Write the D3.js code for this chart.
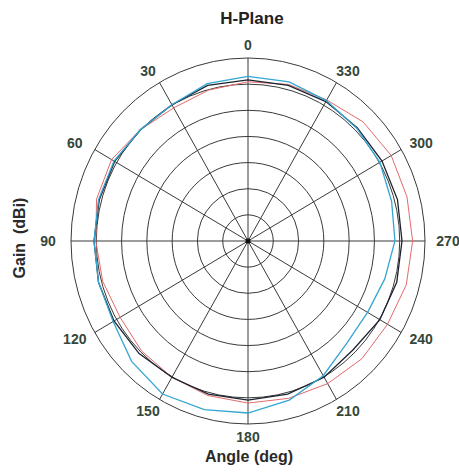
<!DOCTYPE html>
<html><head><meta charset="utf-8">
<script src="https://cdn.jsdelivr.net/npm/d3@7"></script>
<style>
html,body{margin:0;padding:0;background:#fff;}
svg{display:block;font-family:"Liberation Sans",Arial,sans-serif;}
</style></head>
<body><svg id="chart" width="459" height="474"></svg>
<script>
// ---- data ----
const angles = [0,15,30,45,60,75,90,105,120,135,150,165,180,195,210,225,240,255,270,285,300,315,330,345];
const blueGain  = [-3.5,-3.85,-4.9,-4.9,-4.4,-4.4,-4.55,-4.4,-4.2,-2.45,-1.2,-1.6,-2.1,-3.5,-5.25,-7.35,-7.7,-7.0,-5.95,-5.6,-4.9,-4.55,-4.0,-3.5];
const blackGain = [-4.2,-4.2,-4.9,-4.9,-4.55,-4.55,-4.55,-4.4,-4.4,-4.55,-4.9,-4.7,-4.55,-4.7,-4.9,-5.6,-4.9,-4.55,-4.55,-4.4,-4.4,-4.4,-4.2,-4.2];
const redGain   = [-4.55,-5.1,-5.6,-4.9,-3.85,-4.0,-4.9,-5.25,-5.8,-5.25,-4.9,-4.4,-4.0,-3.85,-3.5,-3.15,-3.15,-2.6,-2.45,-2.45,-2.3,-2.8,-3.85,-4.0];
const angleTicks = [0,30,60,90,120,150,180,210,240,270,300,330];
const ringValues = [-30,-25,-20,-15,-10,-5,0];
const gainMin = -35, gainMax = 0;

// ---- layout ----
const svg = d3.select("#chart");
const cx = 248, cy = 241, rx = 177, ry = 183;
const rX = d3.scaleLinear().domain([gainMin, gainMax]).range([0, rx]);
const rY = d3.scaleLinear().domain([gainMin, gainMax]).range([0, ry]);
const ang = d3.scaleLinear().domain([0, 360]).range([0, 2*Math.PI]);
const px = (a, v) => cx - rX(v) * Math.sin(ang(a));
const py = (a, v) => cy - rY(v) * Math.cos(ang(a));

const grid = svg.append("g").attr("fill","none").attr("stroke","#3a3a3a").attr("stroke-width",1);
grid.selectAll("ellipse").data(ringValues).join("ellipse")
  .attr("cx",cx).attr("cy",cy).attr("rx",d=>rX(d)).attr("ry",d=>rY(d));
grid.selectAll("line").data(angleTicks).join("line")
  .attr("x1",cx).attr("y1",cy)
  .attr("x2",d=>px(d,gainMax)).attr("y2",d=>py(d,gainMax));

const series = [
  {vals: redGain,   color:"#e46a6a", w:1},
  {vals: blackGain, color:"#1c2230", w:1.3},
  {vals: blueGain,  color:"#35a6d2", w:1.3}
];
const line = d3.line().x(d=>px(d[0],d[1])).y(d=>py(d[0],d[1])).curve(d3.curveLinearClosed);
svg.append("g").selectAll("path").data(series).join("path")
  .attr("fill","none").attr("stroke",d=>d.color).attr("stroke-width",d=>d.w)
  .attr("d",d=>line(angles.map((a,i)=>[a,d.vals[i]])));

svg.append("circle").attr("cx",cx).attr("cy",cy).attr("r",2.5).attr("fill","#111");

// tick labels
const Lx = 200, Ly = 196;
svg.append("g").selectAll("text").data(angleTicks).join("text")
  .attr("x",d=>cx - Lx*Math.sin(ang(d)))
  .attr("y",d=>cy - Ly*Math.cos(ang(d)))
  .attr("text-anchor","middle").attr("dominant-baseline","central")
  .attr("font-size",14).attr("font-weight","bold").attr("fill","#34473a")
  .text(d=>d);

svg.append("text").attr("x",252).attr("y",24).attr("text-anchor","middle")
  .attr("font-size",17).attr("font-weight","bold").attr("fill","#222").text("H-Plane");
svg.append("text").attr("x",249).attr("y",462).attr("text-anchor","middle")
  .attr("font-size",16).attr("font-weight","bold").attr("fill","#2a2a2a")
  .style("white-space","pre").text("Angle (deg)");
svg.append("text").attr("transform","translate(25,238) rotate(-90)").attr("text-anchor","middle")
  .attr("font-size",16).attr("font-weight","bold").attr("fill","#2a2a2a")
  .style("white-space","pre").text("Gain  (dBi)");
</script></body></html>
